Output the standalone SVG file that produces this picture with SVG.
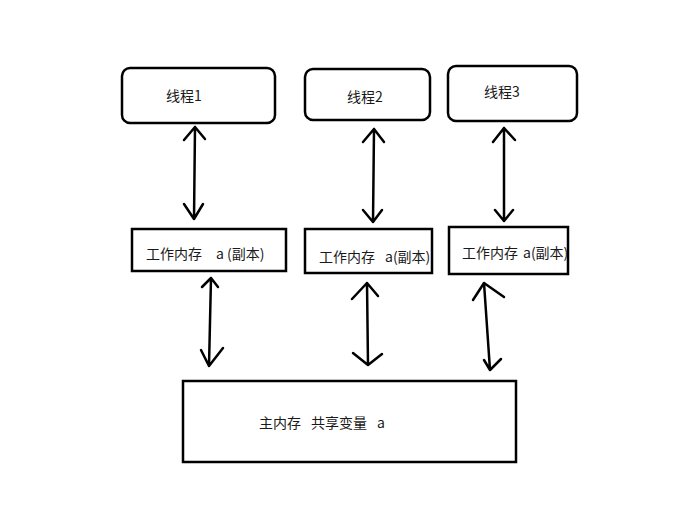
<svg xmlns="http://www.w3.org/2000/svg" width="683" height="511" viewBox="0 0 683 511">
<style>
.box{fill:#fff;stroke:#000;stroke-width:2.5}
.lbl{font-family:"Noto Sans CJK SC","Liberation Sans",sans-serif;font-size:14px;fill:#1a1a1a}
.arr{fill:none;stroke:#000;stroke-width:2.5;stroke-linecap:round;stroke-linejoin:round}
</style>
<defs>
<clipPath id="c3"><rect x="449" y="227" width="118" height="47"/></clipPath>
</defs>
<rect width="683" height="511" fill="#fff"/>
<g id="thread1"><rect class="box" x="122" y="68" width="153" height="55" rx="8"/><text class="lbl" x="166" y="101">线程1</text></g>
<g id="thread2"><rect class="box" x="305" y="69" width="125" height="51" rx="8"/><text class="lbl" x="347" y="102">线程2</text></g>
<g id="thread3"><rect class="box" x="448" y="66" width="129" height="55" rx="8"/><text class="lbl" x="484" y="97">线程3</text></g>
<g id="work1"><rect class="box" x="132" y="229" width="154" height="42"/><text class="lbl" y="259"><tspan x="146">工作内存</tspan><tspan x="216">a</tspan><tspan x="227">(副本)</tspan></text></g>
<g id="work2"><text class="lbl" y="262"><tspan x="319">工作内存</tspan><tspan x="385">a(副本)</tspan></text><rect class="box" x="305" y="229" width="127" height="44" fill="none" style="fill:none"/></g>
<g id="work3"><rect class="box" x="449" y="227" width="119" height="47"/><text class="lbl" y="258" clip-path="url(#c3)"><tspan x="462">工作内存</tspan><tspan x="523">a(副本)</tspan></text></g>
<g id="main"><rect class="box" x="183" y="381" width="333" height="81"/><text class="lbl" y="428"><tspan x="259">主内存</tspan><tspan x="311">共享变量</tspan><tspan x="377">a</tspan></text></g>
<g id="connectors">
<path class="arr" d="M195 127 L194 219 M184 140 L195 127 L205 139 M184 204 L194 219 L203 204"/>
<path class="arr" d="M374 129 L373 222 M363 142 L374 129 L384 142 M363 210 L373 222 L382 210"/>
<path class="arr" d="M504 128 L504 221 M493 142 L504 128 L515 140 M495 210 L504 221 L513 210"/>
<path class="arr" d="M211 278 L209 366 M202 287 L211 278 L218 287 M201 350 L209 366 L223 348"/>
<path class="arr" d="M367 283 L368 365 M352 299 L367 283 L378 296 M353 353 L368 365 L382 354"/>
<path class="arr" d="M484 283 L490 370 M473 300 L484 283 L504 297 M484 360 L490 370 L501 359"/>
</g>
</svg>
